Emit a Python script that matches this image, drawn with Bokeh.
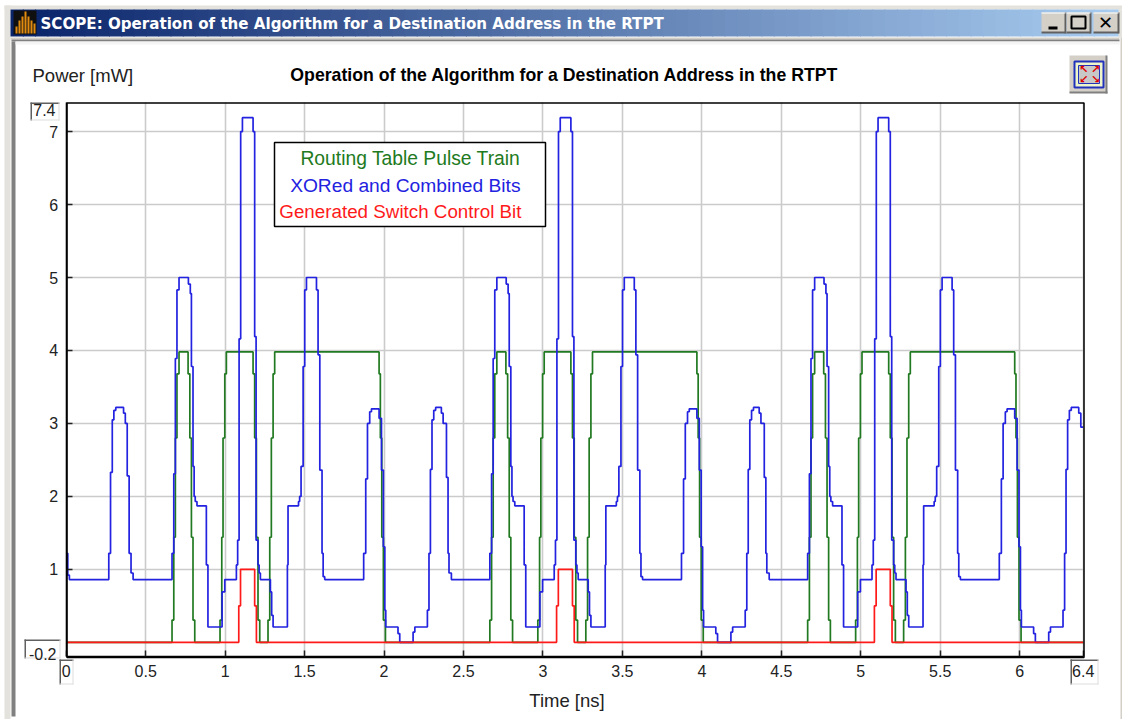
from bokeh.plotting import figure
from bokeh.models import BoxAnnotation, Label, FixedTicker, Range1d
from bokeh.embed import file_html
from bokeh.resources import INLINE

# ---------- data ----------
x_ticks = [0, 0.5, 1, 1.5, 2, 2.5, 3, 3.5, 4, 4.5, 5, 5.5, 6, 6.4]
x_tick_labels = ["0", "0.5", "1", "1.5", "2", "2.5", "3", "3.5", "4", "4.5", "5", "5.5", "6", "6.4"]
y_ticks = [1, 2, 3, 4, 5, 6, 7]

green_t = [0,
    .666, .677, .687, .697, .71, .767, .778, .788, .798, .809,
    .968, .979, .987, .998, 1.008, 1.176, 1.186, 1.197, 1.207, 1.218,
    1.27, 1.281, 1.291, 1.302, 1.312, 1.969, 1.977, 1.986, 1.996, 2.009,
    2.666, 2.677, 2.687, 2.697, 2.71, 2.767, 2.778, 2.788, 2.798, 2.809,
    2.968, 2.979, 2.987, 2.998, 3.008, 3.176, 3.186, 3.197, 3.207, 3.218,
    3.27, 3.281, 3.291, 3.302, 3.312, 3.969, 3.977, 3.986, 3.996, 4.009,
    4.666, 4.677, 4.687, 4.697, 4.71, 4.767, 4.778, 4.788, 4.798, 4.809,
    4.968, 4.979, 4.987, 4.998, 5.008, 5.176, 5.186, 5.197, 5.207, 5.218,
    5.27, 5.281, 5.291, 5.302, 5.312, 5.969, 5.977, 5.986, 5.996, 6.009,
    6.4]
green_v = [0,
    .305, 1.44, 2.8, 3.68, 3.98, 3.68, 2.8, 1.44, .305, 0,
    .305, 1.44, 2.8, 3.68, 3.98, 3.68, 2.8, 1.44, .305, 0,
    .305, 1.44, 2.8, 3.68, 3.98, 3.68, 2.8, 1.44, .305, 0,
    .305, 1.44, 2.8, 3.68, 3.98, 3.68, 2.8, 1.44, .305, 0,
    .305, 1.44, 2.8, 3.68, 3.98, 3.68, 2.8, 1.44, .305, 0,
    .305, 1.44, 2.8, 3.68, 3.98, 3.68, 2.8, 1.44, .305, 0,
    .305, 1.44, 2.8, 3.68, 3.98, 3.68, 2.8, 1.44, .305, 0,
    .305, 1.44, 2.8, 3.68, 3.98, 3.68, 2.8, 1.44, .305, 0,
    .305, 1.44, 2.8, 3.68, 3.98, 3.68, 2.8, 1.44, .305, 0,
    0]

blue_t = [0, .01, .02, .268, .279, .29, .30, .312, .361, .372, .384, .396, .408, .421,
    .666, .677, .687, .697, .71, .769, .781, .788, .798, .805, .812, .823, .882, .892, .981, .998,
    1.071, 1.079, 1.088, 1.098, 1.109, 1.176, 1.186, 1.195, 1.207, 1.214, 1.222, 1.285, 1.293, 1.302,
    1.392, 1.396, 1.462, 1.469, 1.478, 1.491, 1.501, 1.512, 1.575, 1.585, 1.596, 1.61, 1.617, 1.627,
    1.872, 1.885, 1.896, 1.91, 1.921, 1.969, 1.984, 1.996, 2.005, 2.011, 2.088, 2.099, 2.183, 2.194,
    2.273, 2.283, 2.292, 2.302, 2.313, 2.325, 2.361, 2.372, 2.393, 2.403, 2.409, 2.424,
    2.666, 2.677, 2.687, 2.697, 2.71, 2.769, 2.781, 2.788, 2.798, 2.805, 2.812, 2.823, 2.882, 2.892, 2.981, 2.998,
    3.071, 3.079, 3.088, 3.098, 3.109, 3.176, 3.186, 3.195, 3.207, 3.214, 3.222, 3.285, 3.293, 3.302,
    3.392, 3.396, 3.462, 3.469, 3.478, 3.491, 3.501, 3.512, 3.575, 3.585, 3.596, 3.61, 3.617, 3.627,
    3.872, 3.885, 3.896, 3.91, 3.921, 3.969, 3.984, 3.996, 4.005, 4.011, 4.088, 4.099, 4.183, 4.194,
    4.273, 4.283, 4.292, 4.302, 4.313, 4.325, 4.361, 4.372, 4.393, 4.403, 4.409, 4.424,
    4.666, 4.677, 4.687, 4.697, 4.71, 4.769, 4.781, 4.788, 4.798, 4.805, 4.812, 4.823, 4.882, 4.892, 4.981, 4.998,
    5.071, 5.079, 5.088, 5.098, 5.109, 5.176, 5.186, 5.195, 5.207, 5.214, 5.222, 5.285, 5.293, 5.302,
    5.392, 5.396, 5.462, 5.469, 5.478, 5.491, 5.501, 5.512, 5.575, 5.585, 5.596, 5.61, 5.617, 5.627,
    5.872, 5.885, 5.896, 5.91, 5.921, 5.969, 5.984, 5.996, 6.005, 6.011, 6.088, 6.099, 6.183, 6.194,
    6.273, 6.283, 6.292, 6.302, 6.313, 6.325, 6.372, 6.385, 6.4]
blue_v = [1.22, .92, .86, 1.22, 2.33, 3.05, 3.18, 3.22, 3.14, 3.0, 2.28, 1.22, .95, .86,
    1.22, 2.31, 3.89, 4.83, 5.0, 4.91, 4.78, 3.78, 2.41, 2.0, 1.93, 1.87, 1.06, .21, .69, .86,
    1.06, 1.40, 4.16, 7.0, 7.19, 7.0, 4.19, 1.40, 1.06, .95, .86, .69, .37, .21,
    1.06, 1.87, 1.93, 2.0, 2.41, 3.78, 4.83, 5.0, 4.83, 3.94, 2.36, 1.22, .9, .86,
    1.22, 2.24, 3.0, 3.16, 3.2, 3.07, 2.36, 1.31, .44, .21, .12, 0, .14, .21,
    .44, 1.22, 2.37, 3.05, 3.18, 3.22, 3.14, 3.0, 2.26, 1.22, .95, .86,
    1.22, 2.31, 3.89, 4.83, 5.0, 4.91, 4.78, 3.78, 2.41, 2.0, 1.93, 1.87, 1.06, .21, .69, .86,
    1.06, 1.40, 4.16, 7.0, 7.19, 7.0, 4.19, 1.40, 1.06, .95, .86, .69, .37, .21,
    1.06, 1.87, 1.93, 2.0, 2.41, 3.78, 4.83, 5.0, 4.83, 3.94, 2.36, 1.22, .9, .86,
    1.22, 2.24, 3.0, 3.16, 3.2, 3.07, 2.36, 1.31, .44, .21, .12, 0, .14, .21,
    .44, 1.22, 2.37, 3.05, 3.18, 3.22, 3.14, 3.0, 2.26, 1.22, .95, .86,
    1.22, 2.31, 3.89, 4.83, 5.0, 4.91, 4.78, 3.78, 2.41, 2.0, 1.93, 1.87, 1.06, .21, .69, .86,
    1.06, 1.40, 4.16, 7.0, 7.19, 7.0, 4.19, 1.40, 1.06, .95, .86, .69, .37, .21,
    1.06, 1.87, 1.93, 2.0, 2.41, 3.78, 4.83, 5.0, 4.83, 3.94, 2.36, 1.22, .9, .86,
    1.22, 2.24, 3.0, 3.16, 3.2, 3.07, 2.36, 1.31, .44, .21, .12, 0, .14, .21,
    .44, 1.22, 2.37, 3.05, 3.18, 3.22, 3.14, 2.95, 2.95]

red_t = [0, 1.086, 1.097, 1.186, 1.197, 3.086, 3.097, 3.186, 3.197, 5.086, 5.097, 5.186, 5.197, 6.4]
red_v = [0, .5, 1, .5, 0, .5, 1, .5, 0, .5, 1, .5, 0, 0]

GREEN, BLUE, RED = "#217a21", "#2222e0", "#ff1a1a"
FONT = "Liberation Sans"
W, H = 1122, 719

# plot area inside the canvas
PL, PR, PT, PB = 66.5, 1083.5, 102.5, 657.0
DX, DY = -0.8, -0.6   # sub-pixel alignment of the scales with the frame
sx = (PR - PL) / 6.4
sy = (PB - PT) / 7.6

p = figure(width=W, height=H, output_backend="svg", toolbar_location=None,
           x_range=Range1d(-(PL + DX) / sx, 6.4 + (W - PR - DX) / sx),
           y_range=Range1d(-0.2 - (H - PB - DY) / sy, 7.4 + (PT + DY) / sy),
           min_border=0)
p.background_fill_color = "white"
p.border_fill_color = "white"
p.outline_line_color = None

for ax, ticks in ((p.xaxis[0], x_ticks), (p.yaxis[0], y_ticks)):
    ax.ticker = FixedTicker(ticks=ticks)
    ax.major_tick_in = 6
    ax.major_tick_out = 0
    ax.minor_tick_line_color = None
    ax.axis_line_color = "black"
    ax.axis_line_width = 1.5
    ax.major_tick_line_color = "#222222"
    ax.major_tick_line_width = 1.5
    ax.major_label_text_font = FONT
    ax.major_label_text_font_size = "16px"
    ax.major_label_text_color = "#222222"
    ax.major_label_standoff = 8
p.xaxis[0].major_label_overrides = {t: s for t, s in zip(x_ticks, x_tick_labels)}
p.xaxis[0].fixed_location = -0.2
p.yaxis[0].fixed_location = 0
p.xaxis[0].bounds = (0, 6.4)
p.yaxis[0].bounds = (-0.2, 7.4)

for g, b in ((p.xgrid[0], (-0.2, 7.4)), (p.ygrid[0], (0, 6.4))):
    g.grid_line_color = "#cbcbcb"
    g.grid_line_width = 1.6
    g.cross_bounds = b


def box(x0, y0, x1, y1, fill=None, line=None, lw=1, level="annotation"):
    p.add_layout(BoxAnnotation(left=x0, right=x1, top=y0, bottom=y1,
                               left_units="canvas", right_units="canvas",
                               top_units="canvas", bottom_units="canvas",
                               fill_color=fill, fill_alpha=1 if fill else 0,
                               line_color=line, line_alpha=1 if line else 0, line_width=lw,
                               level=level, editable=False))


def text(x, y, s, size="16px", color="#222222", align="left", bold=False, font=FONT):
    p.add_layout(Label(x=x, y=y, x_units="canvas", y_units="canvas", text=s,
                       text_font=font, text_font_size=size, text_color=color,
                       text_align=align, text_baseline="middle",
                       text_font_style="bold" if bold else "normal"))


# ---------- traces ----------
p.step(green_t, green_v, mode="after", line_color=GREEN, line_width=1.7)
p.step(blue_t, blue_v, mode="after", line_color=BLUE, line_width=1.7)
p.step(red_t, red_v, mode="after", line_color=RED, line_width=1.7)

# plot frame
box(PL, PT, PR, PB, line="black", lw=1.5)

# ---------- window frame ----------
box(4, 5, 10, 719, fill="#e4e2dc")
box(4, 5, 1122, 9, fill="#e4e2dc")
n = 90
x0, x1 = 10, 1118
c0, c1 = (10, 36, 106), (168, 204, 240)
for i in range(n):
    f = i / (n - 1)
    col = "#%02x%02x%02x" % tuple(int(a + (b - a) * f) for a, b in zip(c0, c1))
    box(x0 + (x1 - x0) * i / n, 9, x0 + (x1 - x0) * (i + 1) / n + 1, 36, fill=col)
box(1118, 9, 1122, 37, fill="#e4e2dc")
box(10, 37, 1119, 39, fill="#d4d0c8")
box(11, 39, 1119, 41, fill="#808080")
box(11, 41, 15, 716, fill="#808080")
box(15, 41, 1119, 44, fill="#f4f4f4")
box(1120, 37, 1122, 719, fill="#d4d0c8")

# title-bar icon
box(13, 10, 36, 34, fill="#101010")
for bx, bh in zip(range(15, 36, 3), (7, 13, 17, 22, 17, 13, 10)):
    box(bx, 33 - bh, bx + 2, 33, fill="#e08a10")
text(40, 23, "SCOPE: Operation of the Algorithm for a Destination Address in the RTPT",
     size="15.1px", color="white", bold=True, font="DejaVu Sans")

# window buttons
for bx0, bx1 in ((1041, 1065), (1066, 1090), (1093, 1118)):
    box(bx0, 12, bx1, 32, fill="#d4d0c8")
    box(bx0, 31, bx1, 33, fill="#606060")
    box(bx1 - 1, 12, bx1 + 1, 33, fill="#606060")
    box(bx0, 12, bx1, 13, fill="#ffffff")
box(1048, 26, 1057, 29, fill="#000000")
box(1071, 16, 1085, 28, line="#000000", lw=2)
text(1105, 22, "✕", size="18px", color="#000000", align="center", bold=True, font="DejaVu Sans")

# zoom button
box(1069, 55, 1106, 92, fill="#d4d0c8")
box(1069, 91, 1107, 93, fill="#808080")
box(1105, 55, 1107, 93, fill="#808080")
box(1074, 61, 1103, 87, fill="#eef5c8", line="#2233bb", lw=2)
box(1078, 65, 1099, 83, fill="#c8c8c8", line="#2233bb", lw=1)
for ax_, ay_, s in ((1083, 69, "↖"), (1095, 69, "↗"), (1083, 79, "↙"), (1095, 79, "↘")):
    text(ax_, ay_, s, size="11px", color="#dd0000", align="center", bold=True, font="DejaVu Sans")

# ---------- chart texts ----------
text(32, 75, "Power [mW]", size="18.5px")
text(564, 74, "Operation of the Algorithm for a Destination Address in the RTPT",
     size="17.7px", color="#000000", align="center", bold=True)
text(566.5, 700, "Time [ns]", size="18.5px", align="center")

# boxed axis limits
for bx0, by0, bx1, by1 in ((30, 102, 59, 120), (24, 639, 60, 658), (59, 659, 73, 684), (1070, 659, 1098, 684)):
    box(bx0, by0, bx1, by0 + 1.5, fill="#606060")
    box(bx0, by0, bx0 + 1.5, by1, fill="#606060")
    box(bx0, by1 - 1, bx1, by1, fill="#dddddd")
    box(bx1 - 1, by0, bx1, by1, fill="#dddddd")
text(55, 109, "7.4", align="right")
text(56, 653, "-0.2", align="right")

# legend box
box(274, 142, 545, 226, fill="white", line="black", lw=1.5)
text(520, 158, "Routing Table Pulse Train", size="19.3px", color=GREEN, align="right")
text(520, 185, "XORed and Combined Bits", size="19.2px", color=BLUE, align="right")
text(521, 211, "Generated Switch Control Bit", size="18.8px", color=RED, align="right")

open("out.html", "w").write(file_html(p, INLINE))
